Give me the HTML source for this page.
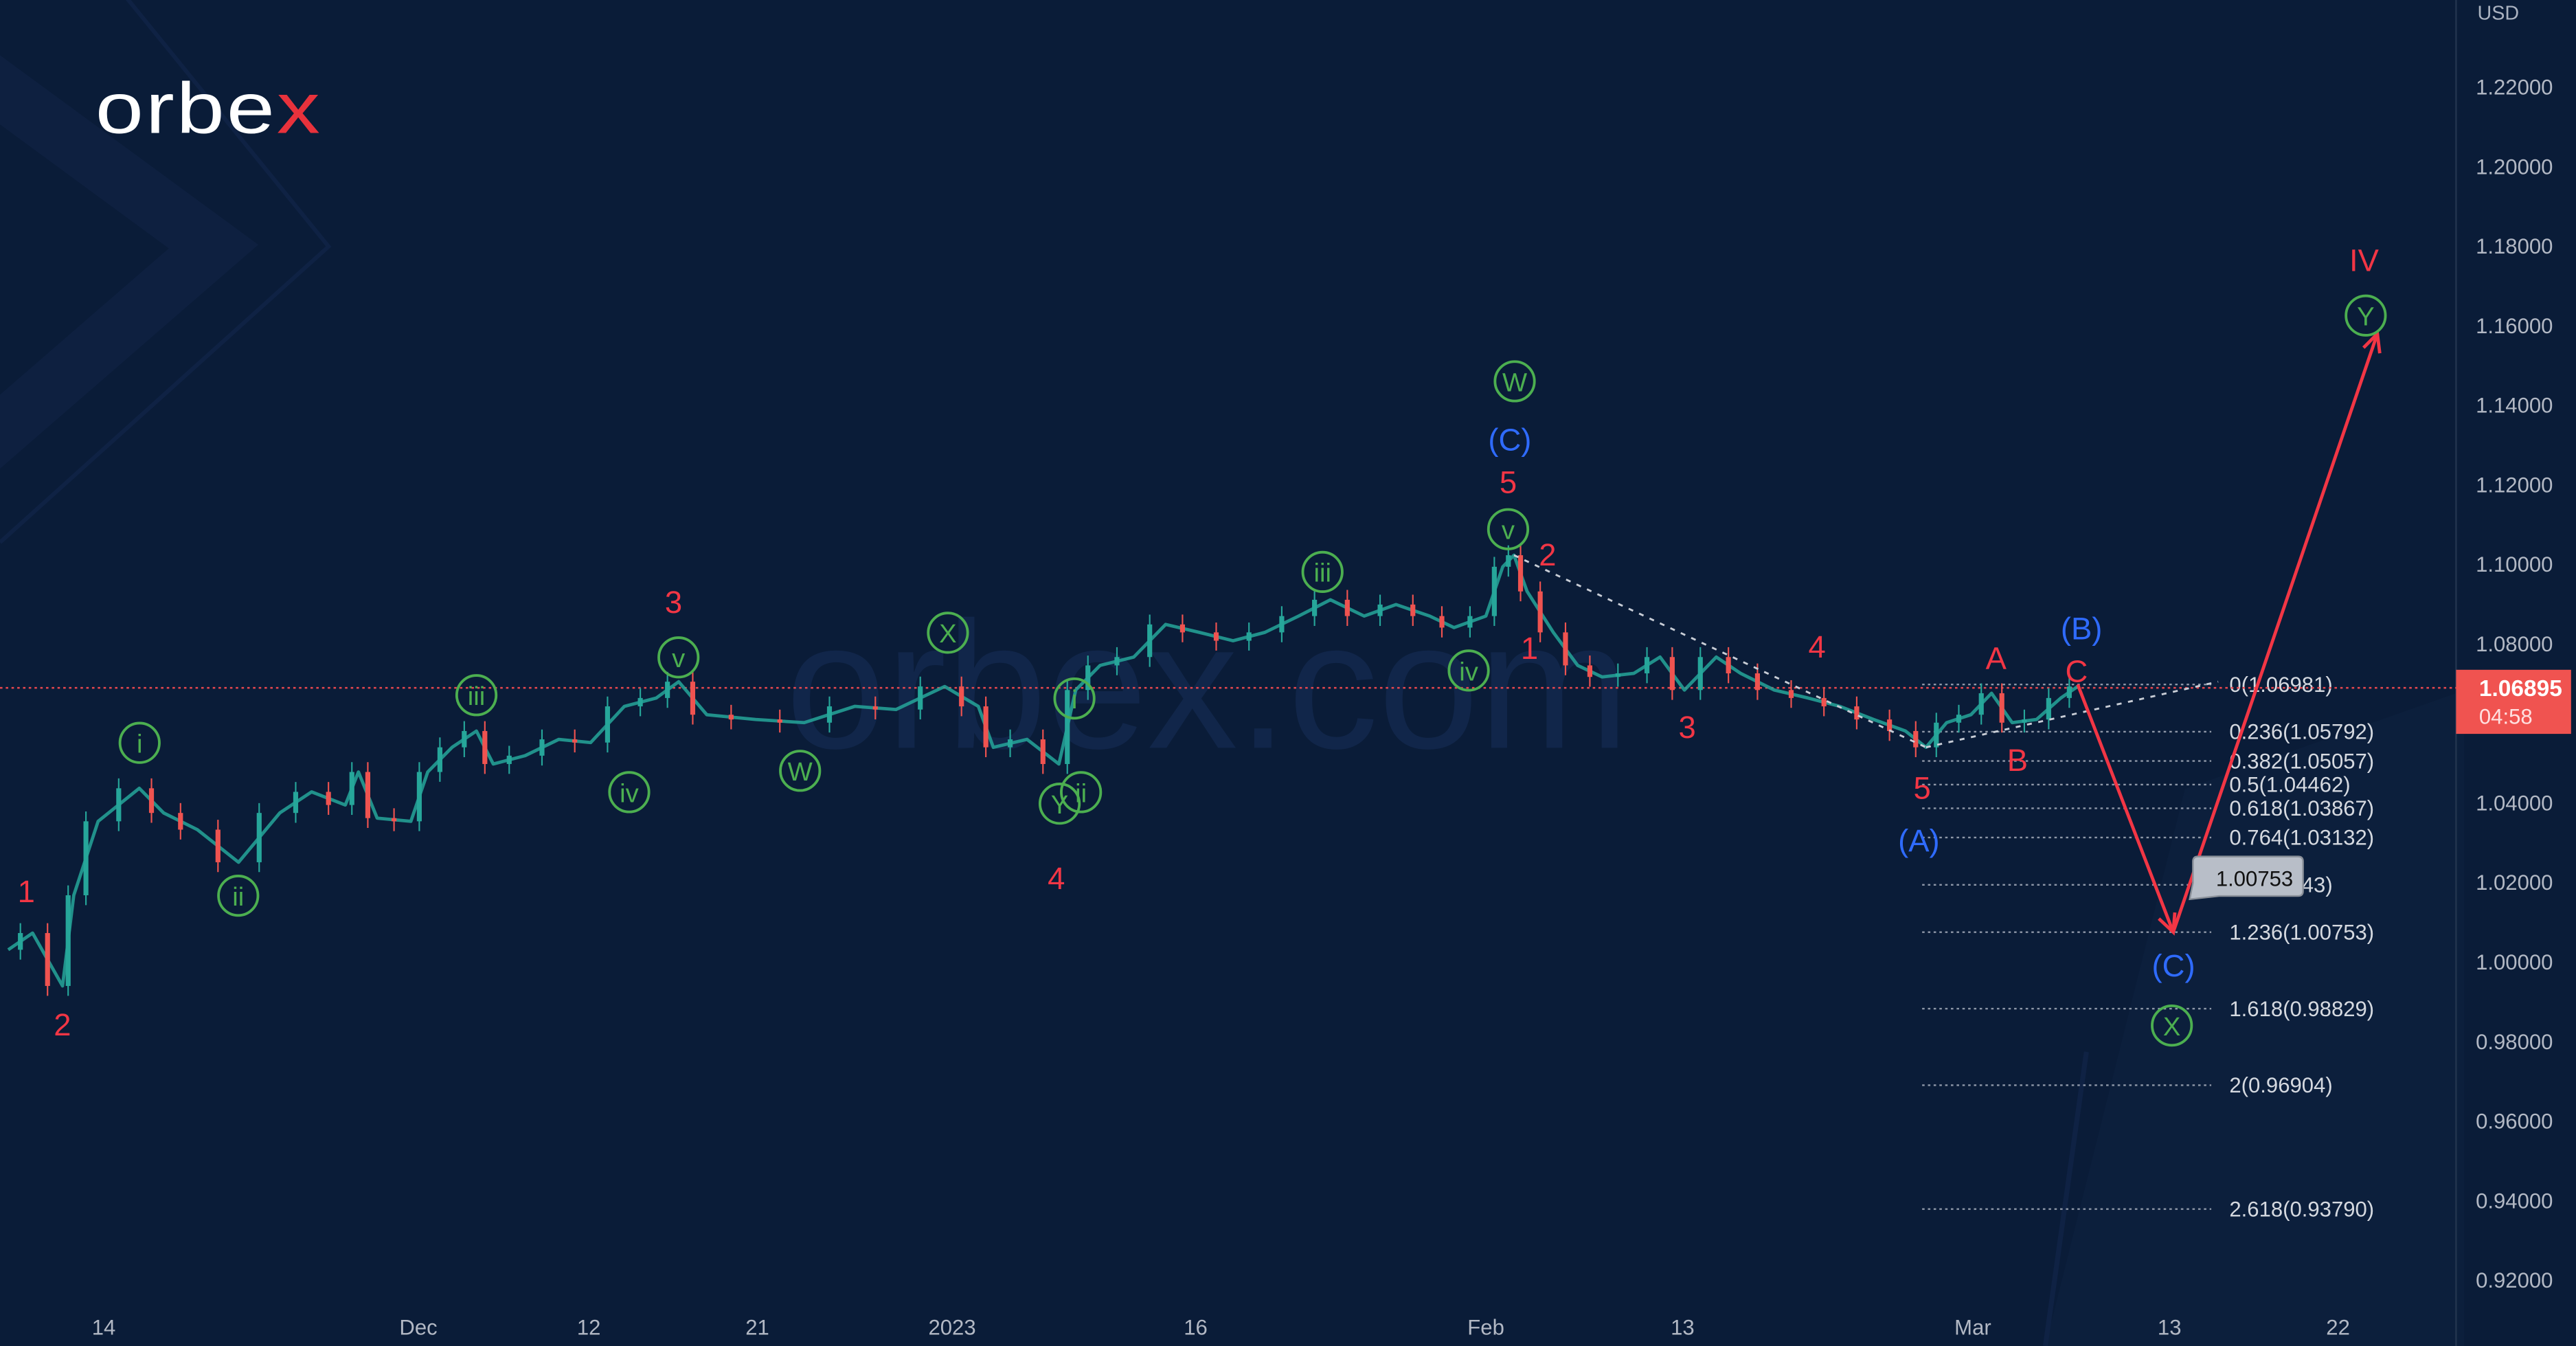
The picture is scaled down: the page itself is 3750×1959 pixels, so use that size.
<!DOCTYPE html>
<html><head><meta charset="utf-8">
<style>
html,body{margin:0;padding:0;background:#0a1c38;}
svg{display:block;}
text{font-family:"Liberation Sans","DejaVu Sans",sans-serif;}
</style></head>
<body>
<svg id="chart" width="3750" height="1959" viewBox="0 0 1568 819" preserveAspectRatio="none" xmlns="http://www.w3.org/2000/svg">
  <rect x="0" y="0" width="1568" height="819" fill="#0a1c38"/>
  <g fill="none" stroke="#0f2244">
    <polyline points="-20,40 130,150 -20,280" stroke-width="34" opacity="0.7"/>
    <polyline points="70,-10 200,150 0,330" stroke-width="2.5"/>
    <polygon points="1245,819 1330,480 1500,420 1500,819" fill="#0e2240" stroke="none" opacity="0.5"/>
    <line x1="1245" y1="819" x2="1270" y2="640" stroke-width="3"/>
  </g>
  <text x="735" y="455" font-size="110" fill="#11264a" text-anchor="middle">orbex.com</text>
  <g>
    <text x="58" y="81" font-size="44" fill="#ffffff" letter-spacing="1" textLength="138" lengthAdjust="spacingAndGlyphs">orbe<tspan fill="#e8323c">x</tspan></text>
  </g>
  <line x1="1495" y1="0" x2="1495" y2="819" stroke="#22344f" stroke-width="1"/>
  <text x="1508" y="12" font-size="12" fill="#aab2c0">USD</text>
  <g id="yticks"></g>
  <g id="xticks"></g>
  <g id="fib"></g>
  <line id="lastline" x1="0" x2="1495" stroke="#e8474e" stroke-width="1" stroke-dasharray="1.5,2"/>
  <g id="candles"></g>
  <g id="dashes"></g>
  <g id="arrows"></g>
  <g id="labels"></g>
  <g id="tags"></g>
</svg>
<script>
// ---- data ----
const barIndex = [0,1.3,2.9,3.5,4.8,7,8.3,10.1,12.3,14.5,16.2,18,18.7,19.7,21.5,22.4,23.7,25,25.9,27.6,29.4,31.1,32.9,34.6,35.8,37.3,39.9,42.5,45.2,47.4,50,51.8,52.6,54.4,56.1,57,58.3,60.1,61.8,63.6,65.4,67.1,68.9,70.6,72.4,74.1,75.9,77.2,78.9,79.8,80.4,81.1,82.5,83.8,85.1,86.8,88.2,89.5,91.2,92.5,94.3,96.1,97.8,99.6,101.3,102.4,103.5,104.8,105.9,107,108.3,109.6,110.5];
const closes = [1.0031,1.0073,0.9940,1.0168,1.0354,1.0437,1.0375,1.0333,1.0251,1.0375,1.0428,1.0395,1.0478,1.0362,1.0354,1.0478,1.0540,1.0581,1.0498,1.0519,1.0560,1.0552,1.0643,1.0664,1.0705,1.0622,1.0610,1.0602,1.0643,1.0635,1.0693,1.0643,1.0540,1.0560,1.0498,1.0684,1.0746,1.0767,1.0849,1.0829,1.0808,1.0829,1.0870,1.0911,1.0870,1.0899,1.0870,1.0841,1.0870,1.0994,1.1023,1.0932,1.0829,1.0746,1.0717,1.0726,1.0767,1.0684,1.0767,1.0726,1.0684,1.0664,1.0643,1.0610,1.0581,1.0540,1.0602,1.0622,1.0676,1.0602,1.0610,1.0664,1.0693];
const priceTicks = [1.22,1.20,1.18,1.16,1.14,1.12,1.10,1.08,1.06,1.04,1.02,1.00,0.98,0.96,0.94,0.92];
const timeTickLabels = ["14","Dec","12","21","2023","16","Feb","13","Mar","13","22"];
const timeTickIdx = [5.1,21.9,31,40,50.4,63.4,78.9,89.4,104.9,115.4,124.4];
const fibRatios = ["0","0.236","0.382","0.5","0.618","0.764","1","1.236","1.618","2","2.618"];
const fibPrices = [1.06981,1.05792,1.05057,1.04462,1.03867,1.03132,1.01943,1.00753,0.98829,0.96904,0.93790];
const lastPrice = 1.06895;
const projIdx = [110.5,115.6,126.5];
const projPrice = [1.0698,1.00753,1.1580];

function y(p){ return 53 + (1.22 - p) / 0.30 * 726; }
function x(i){ return 5 + i * 11.4; }
const NS = "http://www.w3.org/2000/svg";
function mk(tag, attrs, parent){ const e=document.createElementNS(NS,tag); for(const k in attrs) e.setAttribute(k,attrs[k]); parent.appendChild(e); return e; }

const yg = document.getElementById('yticks');
priceTicks.forEach(p=>{
  const t = mk('text',{x:1507,y:y(p)+4.5,'font-size':13,fill:'#b2b8c4'},yg);
  
  
  t.textContent = p.toFixed(5);
});
const xg = document.getElementById('xticks');
timeTickLabels.forEach((l,k)=>{
  const t = mk('text',{x:x(timeTickIdx[k]),y:812,'font-size':13,fill:'#b2b8c4','text-anchor':'middle'},xg);
  
  
  t.textContent = l;
});
const fg = document.getElementById('fib');
fibPrices.forEach((p,k)=>{
  const ln = mk('line',{x1:1170,x2:1346,y1:y(p),y2:y(p),stroke:'#8f98a8','stroke-width':1,'stroke-dasharray':'1.5,2'},fg);
  
  
  const t = mk('text',{x:1357,y:y(p)+4.5,'font-size':13,fill:'#d5d9e0'},fg);
  
  
  t.textContent = fibRatios[k]+'('+p.toFixed(5)+')';
});
const ll = document.getElementById('lastline');
ll.setAttribute('y1', y(lastPrice)); ll.setAttribute('y2', y(lastPrice));

const cg = document.getElementById('candles');
const pts = barIndex.map((b,k)=>x(b)+','+y(closes[k])).join(' ');
const pl = mk('polyline',{points:pts,fill:'none',stroke:'#26a69a','stroke-width':2,opacity:0.85,'stroke-linejoin':'round'},cg);


for(let k=1;k<closes.length;k++){
  const o=closes[k-1], c=closes[k];
  const up = c>=o, col = up ? '#26a69a' : '#ef5350';
  const xm=(x(barIndex[k-1])+x(barIndex[k]))/2;
  const ln = mk('line',{x1:xm,x2:xm,y1:y(Math.max(o,c))-6,y2:y(Math.min(o,c))+6,stroke:col,'stroke-width':0.9},cg);
  
  
  const r = mk('rect',{x:xm-1.5,y:y(Math.max(o,c)),width:3,height:Math.max(1,Math.abs(y(o)-y(c))),fill:col},cg);
  
  
}

const dg = document.getElementById('dashes');
[[80.4,1.1023,102.4,1.0540],[102.4,1.0540,118.0,1.0705]].forEach(s=>{
  const l = mk('line',{x1:x(s[0]),y1:y(s[1]),x2:x(s[2]),y2:y(s[3]),stroke:'#c8cdd6','stroke-width':1.2,'stroke-dasharray':'3,4'},dg);
  
  
});

const ag = document.getElementById('arrows');
function arrow(xa,ya,xb,yb){
  const l = mk('line',{x1:xa,y1:ya,x2:xb,y2:yb,stroke:'#f23645','stroke-width':2},ag);
  
  
  const a=Math.atan2(yb-ya,xb-xa), L=12;
  const p = mk('polyline',{points:(xb-L*Math.cos(a-0.45))+','+(yb-L*Math.sin(a-0.45))+' '+xb+','+yb+' '+(xb-L*Math.cos(a+0.45))+','+(yb-L*Math.sin(a+0.45)),fill:'none',stroke:'#f23645','stroke-width':2},ag);
  
  
}
arrow(x(projIdx[0]),y(projPrice[0]),x(projIdx[1]),y(projPrice[1]));
arrow(x(projIdx[1]),y(projPrice[1]),x(projIdx[2]),y(projPrice[2]));

const labels = [
 ["1",16,549,"r"],["2",38,630,"r"],["3",410,373,"r"],["4",643,541,"r"],["5",918,300,"r"],["1",931,401,"r"],["2",942,344,"r"],["3",1027,449,"r"],["4",1106,400,"r"],["5",1170,486,"r"],["A",1215,407,"r"],["B",1228,469,"r"],["C",1264,415,"r"],["IV",1439,165,"r"],
 ["(C)",919,274,"b"],["(B)",1267,389,"b"],["(A)",1168,518,"b"],["(C)",1323,594,"b"],
 ["i",85,452,"g"],["ii",145,545,"g"],["iii",290,423,"g"],["iv",383,482,"g"],["v",413,400,"g"],["W",487,469,"g"],["X",577,385,"g"],["Y",645,489,"g"],["ii",658,482,"g"],["i",654,425,"g"],["iii",805,348,"g"],["iv",894,408,"g"],["v",918,322,"g"],["W",922,232,"g"],["Y",1440,192,"g"],["X",1322,624,"g"]
];
const lg = document.getElementById('labels');
const colors = {r:'#f23645',b:'#2f6bff',g:'#4caf50'};
labels.forEach(L=>{
  if(L[3]==='g'){
    const c = mk('circle',{cx:L[1],cy:L[2],r:12,fill:'none',stroke:'#4caf50','stroke-width':1.6},lg);
    
    
    const t = mk('text',{x:L[1],y:L[2]+6,'font-size':16,fill:'#4caf50','text-anchor':'middle'},lg);
    
    
    t.textContent = L[0];
  } else {
    const t = mk('text',{x:L[1],y:L[2],'font-size':19,fill:colors[L[3]],'text-anchor':'middle'},lg);
    
    
    t.textContent = L[0];
  }
});

const tg = document.getElementById('tags');
const pb = mk('rect',{x:1495,y:y(lastPrice)-11,width:70,height:39,fill:'#f05350'},tg);


const t1 = mk('text',{x:1509,y:y(lastPrice)+5,'font-size':14,'font-weight':'bold',fill:'#ffffff'},tg);


t1.textContent = lastPrice.toFixed(5);
const t2 = mk('text',{x:1509,y:y(lastPrice)+22,'font-size':13,fill:'#ffe0e0'},tg);


t2.textContent = '04:58';
const bx = x(projIdx[1]), by = y(projPrice[1]);
const tip = mk('path',{d:'M'+(bx+10)+','+(by-20)+' L'+(bx+12)+','+(by-30)+' L'+(bx+12)+','+(by-43)+' Q'+(bx+12)+','+(by-46)+' '+(bx+15)+','+(by-46)+' L'+(bx+76)+','+(by-46)+' Q'+(bx+79)+','+(by-46)+' '+(bx+79)+','+(by-43)+' L'+(bx+79)+','+(by-25)+' Q'+(bx+79)+','+(by-22)+' '+(bx+76)+','+(by-22)+' L'+(bx+28)+','+(by-22)+' Z',fill:'#b8bec8',stroke:'#8a9099','stroke-width':1},tg);


const t3 = mk('text',{x:bx+26,y:by-28,'font-size':13,fill:'#111111'},tg);


t3.textContent = projPrice[1].toFixed(5);
</script>
</body></html>
